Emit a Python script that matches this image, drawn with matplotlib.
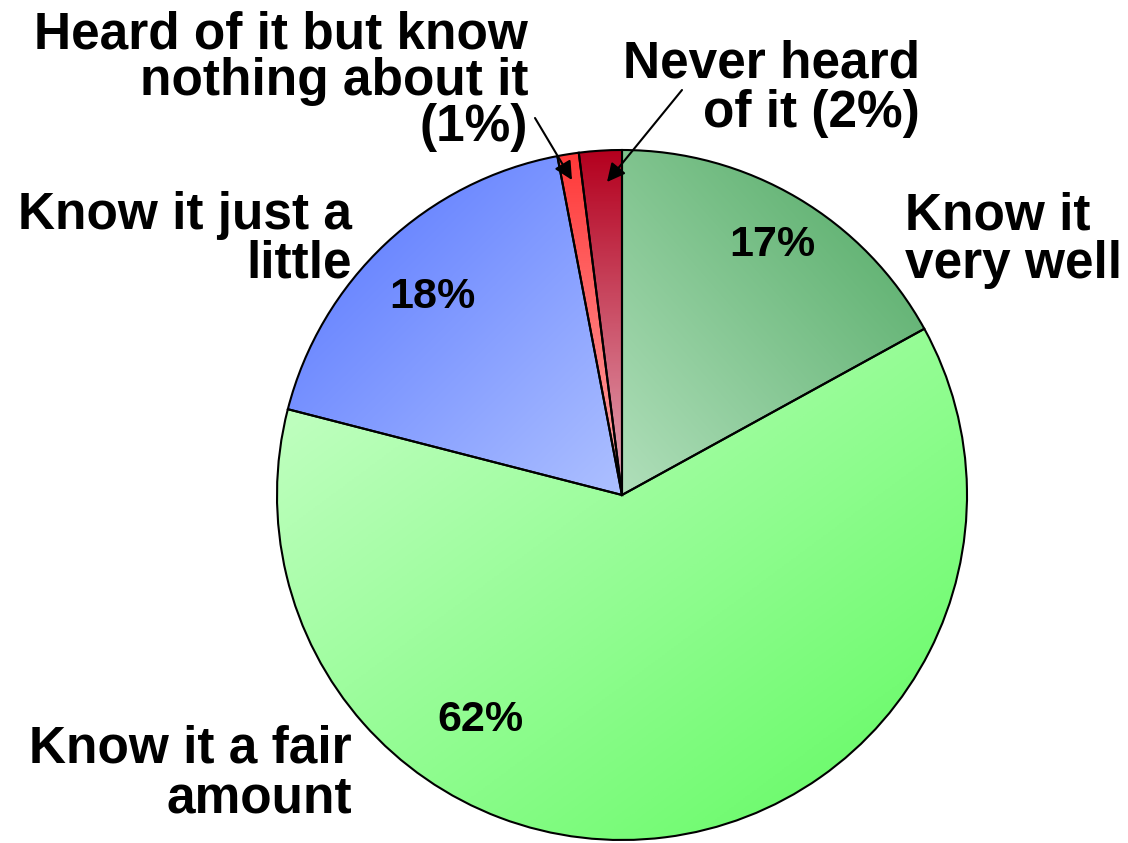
import numpy as np
import matplotlib
matplotlib.use("Agg")
import matplotlib.pyplot as plt
from matplotlib.colors import LinearSegmentedColormap

plt.rcParams['font.family'] = ['Liberation Sans', 'DejaVu Sans']
plt.rcParams['font.weight'] = 'bold'

# data
categories = ["Know it very well", "Know it a fair amount", "Know it just a little",
              "Heard of it but know nothing about it", "Never heard of it"]
shares = [17, 62, 18, 1, 2]
pct_labels = ["17%", "62%", "18%", "", ""]

# gradient colours (start, end) and direction of each wedge
grad_colors = [("#b0dfba", "#4fa862"),
               ("#c8ffc8", "#5ffa5f"),
               ("#5574ff", "#adc0ff"),
               ("#ff3838", "#ffaaaa"),
               ("#b4001e", "#e4a8b8")]
grad_dirs = [(1, 1), (1, -1), (1, -1), (0, -1), (0, -1)]

W, H = 1128, 843
fig = plt.figure(figsize=(W / 100, H / 100), dpi=100)
ax = fig.add_axes([0, 0, 1, 1])

cx, cy, r = 622, H - 495, 345
wedges, _ = ax.pie(shares, startangle=90, counterclock=False, center=(cx, cy), radius=r,
                   wedgeprops=dict(edgecolor="black", linewidth=1.5))

# gradient fill clipped to each wedge, stretched over the wedge's own box
gx, gy = np.meshgrid(np.linspace(-1, 1, 300), np.linspace(-1, 1, 300))
for w, (c0, c1), (dx, dy) in zip(wedges, grad_colors, grad_dirs):
    w.set_facecolor("none")
    ang = np.radians(np.linspace(w.theta1, w.theta2, 200))
    px = np.concatenate([[cx], cx + r * np.cos(ang)])
    py = np.concatenate([[cy], cy + r * np.sin(ang)])
    t = (gx * dx + gy * dy) / (abs(dx) + abs(dy))
    t = (t - t.min()) / (t.max() - t.min())
    cmap = LinearSegmentedColormap.from_list("g", [c0, c1])
    im = ax.imshow(t, cmap=cmap, origin="lower",
                   extent=(px.min(), px.max(), py.min(), py.max()),
                   zorder=0.5, interpolation="bilinear")
    im.set_clip_path(w)
    w.set_zorder(1)

ax.set_xlim(0, W)
ax.set_ylim(0, H)
ax.set_aspect("equal")
ax.axis("off")

# percentage labels inside
pct_pos = [(772, 245), (480, 720), (432, 297)]
for lab, (px, py) in zip(pct_labels, pct_pos):
    ax.text(px, H - py, lab, fontsize=31, fontweight="bold", ha="center", va="center")

# category labels
fs = 37
ax.text(905, H - 240, "Know it\nvery well", fontsize=fs, ha="left", va="center", linespacing=1.0)
ax.text(352, H - 240, "Know it just a\nlittle", fontsize=fs, ha="right", va="center", linespacing=1.0)
ax.text(352, H - 774, "Know it a fair\namount", fontsize=fs, ha="right", va="center", linespacing=1.02)
ax.text(528, H - 81, "Heard of it but know\nnothing about it\n(1%)", fontsize=fs,
        ha="right", va="center", linespacing=0.93)
ax.text(920, H - 89, "Never heard\nof it (2%)", fontsize=fs, ha="right", va="center",
        multialignment="right", linespacing=1.0)

# leader arrows
arrow = dict(arrowstyle="-|>,head_length=1.1,head_width=0.55", color="black", lw=1.5,
             shrinkA=0, shrinkB=0)
ax.annotate("", xy=(572, H - 180), xytext=(535, H - 118), arrowprops=arrow)
ax.annotate("", xy=(607, H - 182), xytext=(682, H - 90), arrowprops=arrow)

fig.savefig("out.png", dpi=100)
